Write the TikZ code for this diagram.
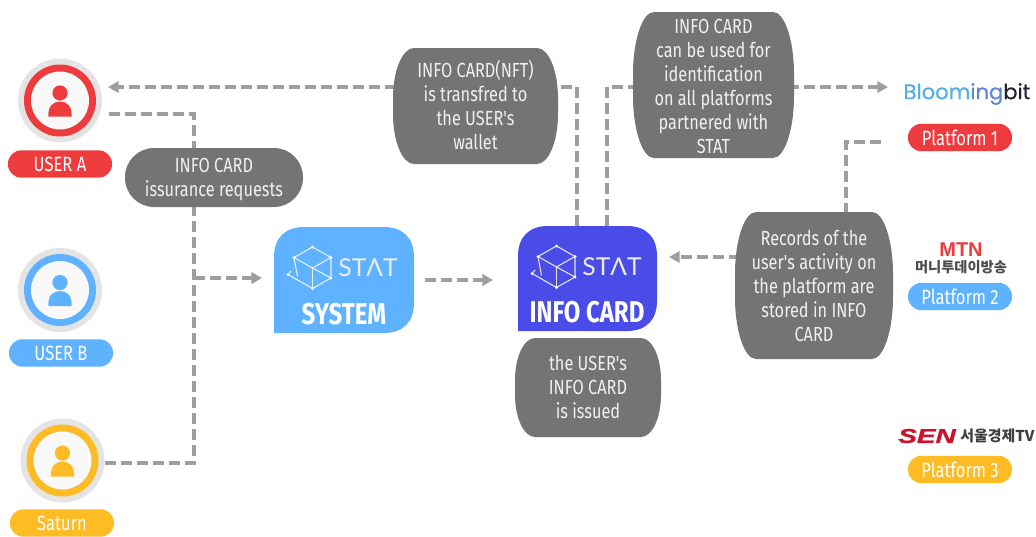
\documentclass[tikz,border=0pt]{standalone}
\usepackage{fontspec}
\setmainfont[FakeStretch=0.8,Ligatures=TeXOff]{Fira Sans}
\newfontfamily\cjk{Noto Sans CJK KR}
\newfontfamily\logofont[FakeBold=0.5]{Poppins}
\newfontfamily\statfont{Lato}
\newfontfamily\mtnfont{Liberation Sans}
\newfontfamily\senfont[FakeStretch=1.4,FakeBold=1.2]{Liberation Sans}
\usetikzlibrary{arrows.meta}
\definecolor{bubblegray}{HTML}{747474}
\definecolor{linegray}{HTML}{9E9E9E}
\definecolor{ringgray}{HTML}{E4E4E4}
\definecolor{inner}{HTML}{F9F9F9}
\definecolor{ured}{HTML}{EE3B3E}
\definecolor{ublue}{HTML}{5FB2FF}
\definecolor{uyellow}{HTML}{FDBB24}
\definecolor{cardblue}{HTML}{4A4CE8}
\definecolor{senred}{HTML}{C8142E}
\tikzset{
  flow/.style={draw=linegray,line width=2.6pt,dash pattern=on 8pt off 4pt},
  flowarrow/.style={flow,-{Triangle[length=8pt,width=8.5pt,fill=linegray]}},
  pilllabel/.style={fill=#1,rounded corners=10pt,minimum width=78pt,minimum height=20.5pt,inner sep=0pt,text=white,font=\fontsize{15.5}{18}\selectfont},
  bubbletext/.style={text=white!94!black,align=center,font=\fontsize{15.3}{18}\selectfont,inner sep=0pt},
  titletext/.style={text=white,font=\fontsize{22.5}{24}\selectfont\bfseries,inner sep=0pt},
  statlogoline/.style={draw=white,line width=.8pt,opacity=.85},
  anchorbox/.style={inner sep=0pt,minimum size=0pt},
}
% \bubble{name}{x1}{y1}{x2}{y2}{rx}{ry}{text}{text offset}
\newcommand{\bubble}[9]{%
  \fill[bubblegray] (#2+#6,#3) -- (#4-#6,#3)
    .. controls (#4-.45*#6,#3) and (#4,#3+.45*#7) .. (#4,#3+#7)
    -- (#4,#5-#7) .. controls (#4,#5-.45*#7) and (#4-.45*#6,#5) .. (#4-#6,#5)
    -- (#2+#6,#5) .. controls (#2+.45*#6,#5) and (#2,#5-.45*#7) .. (#2,#5-#7)
    -- (#2,#3+#7) .. controls (#2,#3+.45*#7) and (#2+.45*#6,#3) .. (#2+#6,#3) -- cycle;
  \node[bubbletext] (#1) at ({(#2+#4)/2},{(#3+#5)/2+#9}) {#8};
}
% \person{name}{x}{y}{colour}
\newcommand{\person}[4]{%
  \fill[ringgray] (#2,#3) circle (42);
  \fill[#4] (#2,#3) circle (36);
  \fill[inner] (#2,#3) circle (29);
  \fill[#4] (#2,#3-7.5) circle (7.6);
  \fill[#4] (#2-11.5,#3+16) .. controls (#2-12.5,#3+5) and (#2-6,#3+1) .. (#2,#3+1)
     .. controls (#2+6,#3+1) and (#2+12.5,#3+5) .. (#2+11.5,#3+16) -- cycle;
  \coordinate (#1) at (#2,#3);
}
% \statlogo{name}{x}{y}: x,y is the card's top-left corner
\newcommand{\statlogo}[3]{%
  \begin{scope}[shift={(#2,#3)}]
    \draw[statlogoline] (38.5,20) -- (57,30.5) -- (57,51) -- (38.5,61.5) -- (14,47.5) -- (17,44);
    \draw[statlogoline] (38.5,20) -- (20,30.5) -- (38.5,41) -- (57,30.5);
    \draw[statlogoline] (20,30.5) -- (23.5,49.5);
    \draw[statlogoline] (38.5,41) -- (38.5,61.5);
    \draw[statlogoline] (38.5,41) -- (57,51);
    \foreach \px/\py in {38.5/20,57/30.5,57/51,38.5/61.5,20/30.5,14/47.5}
      \fill[white] (\px,\py) circle (1.5);
    \node[anchorbox,text=white!92!black,font=\statfont\fontsize{18.5}{20}\selectfont] (#1) at (94,41) {STΛT};
  \end{scope}
}
\begin{document}
\begin{tikzpicture}[x=0.75pt,y=-0.75pt]
\useasboundingbox (0,0) rectangle (1036,536);
\fill[white] (0,0) rectangle (1036,536);

\person{userA}{60}{100.5}{ured}
\person{userB}{60}{290}{ublue}
\person{saturn}{62.5}{460.5}{uyellow}

\node[pilllabel=ured] (labelA) at (60,164) {USER A};
\node[pilllabel=ublue] (labelB) at (61,353) {USER B};
\node[pilllabel=uyellow] (labelC) at (62,523) {Saturn};

\coordinate (aOut) at (109,114);
\coordinate (aCorner) at (194,114);
\coordinate (sOut) at (104,463);
\coordinate (sCorner) at (194,463);
\coordinate (junction) at (194,278);
\coordinate (sysIn) at (262,278);
\coordinate (sysOut) at (425,280);
\coordinate (cardIn) at (493,280);
\coordinate (cardTopL) at (577,226);
\coordinate (cardTopR) at (607,226);
\coordinate (leftTurn) at (577,87);
\coordinate (rightTurn) at (607,87);
\coordinate (userIn) at (108,87);
\coordinate (bloomIn) at (888,87);
\coordinate (platOut) at (881,142);
\coordinate (platTurn) at (846,142);
\coordinate (recTurn) at (846,257);
\coordinate (cardRight) at (669,257);

\draw[flow] (aOut) -- (aCorner) -- (sCorner) -- (sOut);
\draw[flowarrow] (junction) -- (sysIn);
\draw[flowarrow] (sysOut) -- (cardIn);
\draw[flowarrow] (cardTopL) -- (leftTurn) -- (userIn);
\draw[flowarrow] (cardTopR) -- (rightTurn) -- (bloomIn);
\draw[flowarrow] (platOut) -- (platTurn) -- (recTurn) -- (cardRight);

\fill[ublue] (274,333) -- (274,257) .. controls (274,238) and (285,227) .. (304,227)
  -- (384,227) .. controls (403,227) and (414,238) .. (414,257)
  -- (414,303) .. controls (414,322) and (403,333) .. (384,333) -- cycle;
\statlogo{statA}{274}{227}
\node[titletext] (system) at (344,314) {SYSTEM};

\fill[cardblue] (518,331) -- (518,256) .. controls (518,237) and (529,226) .. (548,226)
  -- (627,226) .. controls (646,226) and (657,237) .. (657,256)
  -- (657,301) .. controls (657,320) and (646,331) .. (627,331) -- cycle;
\statlogo{statB}{518}{226}
\node[titletext] (infocard) at (587,312) {INFO CARD};

\bubble{reqBubble}{125}{148}{303}{207}{29}{29}{INFO CARD\\issurance requests}{2.5}
\bubble{nftBubble}{393}{48}{558}{164}{21}{50}{INFO CARD(NFT)\\is transfred to\\the USER's\\wallet}{-1.5}
\bubble{useBubble}{633}{12}{794}{158}{21}{62}{INFO CARD\\can be used for\\identification\\on all platforms\\partnered with\\STAT}{1}
\bubble{recBubble}{735}{212}{893}{359}{21}{62}{Records of the\\user's activity on\\the platform are\\stored in INFO\\CARD}{0.5}
\bubble{issuedBubble}{515}{338}{661}{437}{20}{42}{the USER's\\INFO CARD\\is issued}{-0.5}

\node[anchorbox,font=\logofont\fontsize{15.8}{18}\selectfont] (bloom) at (967,94) {\textcolor[HTML]{55AEE6}{Bloom}\textcolor[HTML]{5C86D8}{ing}\textcolor[HTML]{1E2233}{bit}};
\node[pilllabel=ured] (plat1) at (960,137.5) {Platform 1};
\node[anchorbox,text=ured,font=\mtnfont\fontsize{15}{15}\selectfont\bfseries] (mtn) at (961,250) {MTN};
\node[anchorbox,text=black!70,font=\cjk\fontsize{10.7}{11}\selectfont\bfseries] (mtnKo) at (961,267) {머니투데이방송};
\node[pilllabel=ublue] (plat2) at (960,296.5) {Platform 2};
\node[anchorbox,text=senred,font=\senfont\fontsize{15}{15}\selectfont\bfseries\itshape] (sen) at (927,436) {SEN};
\node[anchorbox,text=black!75,font=\cjk\fontsize{11.2}{12}\selectfont\bfseries] (senKo) at (997.5,436) {서울경제TV};
\node[pilllabel=uyellow] (plat3) at (960,469.5) {Platform 3};
\end{tikzpicture}
\end{document}
